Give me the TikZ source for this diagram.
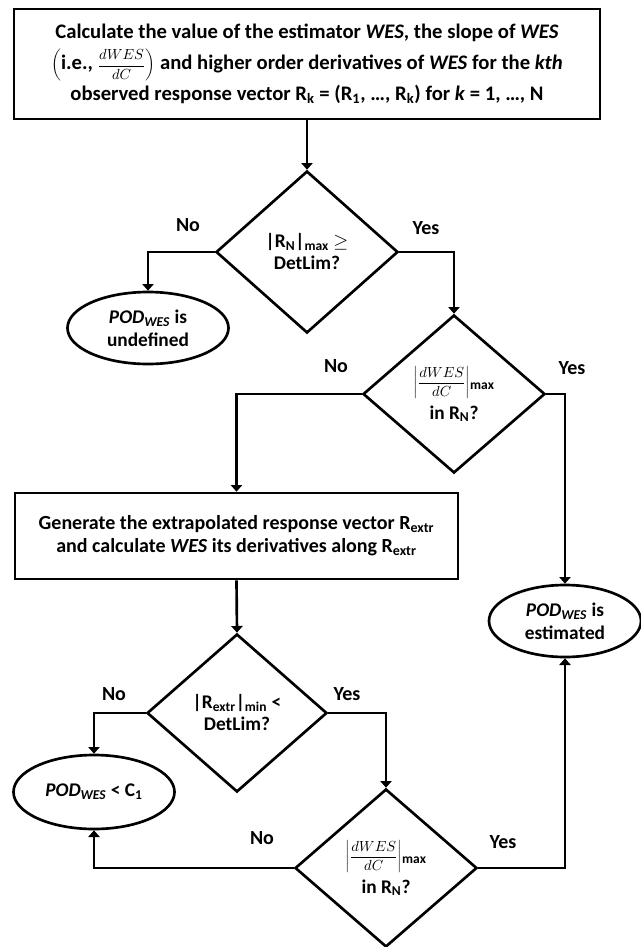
\documentclass[tikz,border=0pt]{standalone}
\usepackage{fontspec}
\setmainfont{Carlito}
\usetikzlibrary{shapes.geometric,arrows.meta}
\newcommand{\dwesdc}{\mbox{\fontsize{10.5}{12}\selectfont$\displaystyle\frac{dWES}{dC}$}}
\tikzset{
  base/.style={draw=black, line width=2pt, align=center, inner sep=0pt,
    font=\fontsize{14.5}{17}\selectfont\bfseries},
  procbox/.style={base, rectangle},
  decision/.style={base, diamond},
  terminal/.style={base, ellipse},
  arr/.style={line width=2pt, -{Triangle[length=5pt,width=8.5pt]}},
  lbl/.style={font=\fontsize{15}{17}\selectfont\bfseries, inner sep=0pt}
}
\begin{document}
\begin{tikzpicture}[x=0.75pt,y=-0.75pt]
\fill[white] (0,0) rectangle (641,947);
\useasboundingbox (0,0) rectangle (641,947);

\node[procbox, minimum width=439.5pt, minimum height=82.5pt,
  font=\fontsize{15.5}{23}\selectfont\bfseries] (top) at (307,64)
  {Calculate the value of the estimator \textit{WES}, the slope of \textit{WES}\\
   $\left(\mbox{i.e., }\dwesdc\right)$ and higher order derivatives of \textit{WES} for the \textit{kth}\\
   observed response vector R\textsubscript{k} = (R\textsubscript{1}, \dots, R\textsubscript{k}) for \textit{k} = 1, \dots, N};

\node[decision, minimum width=136.5pt, minimum height=121.5pt,
  font=\fontsize{14.5}{16.5}\selectfont\bfseries] (d1) at (307,252)
  {|R\textsubscript{N}|\textsubscript{max} $\geq$\\DetLim?};

\node[terminal, minimum width=120.75pt, minimum height=54pt] (e1) at (148,328)
  {\textit{POD}\textsubscript{\textit{WES}} is\\undefined};

\node[decision, minimum width=136.5pt, minimum height=118.5pt] (d2) at (454,394)
  {$\left|\dwesdc\right|$\textsubscript{max}\\[4.5pt]in R\textsubscript{N}?};

\node[procbox, minimum width=332.25pt, minimum height=64.5pt,
  font=\fontsize{15}{17.25}\selectfont\bfseries] (box2) at (236.5,536)
  {Generate the extrapolated response vector R\textsubscript{extr}\\
   and calculate \textit{WES} its derivatives along R\textsubscript{extr}};

\node[terminal, minimum width=114pt, minimum height=54pt] (e2) at (565,621)
  {\textit{POD}\textsubscript{\textit{WES}} is\\estimated};

\node[decision, minimum width=135pt, minimum height=118.5pt,
  font=\fontsize{14.5}{16.5}\selectfont\bfseries] (d3) at (237,713)
  {|R\textsubscript{extr}|\textsubscript{min} <\\DetLim?};

\node[terminal, minimum width=120.75pt, minimum height=55.5pt] (e3) at (94,792)
  {\textit{POD}\textsubscript{\textit{WES}} < C\textsubscript{1}};

\node[decision, minimum width=136.5pt, minimum height=118.5pt] (d4) at (386,868)
  {$\left|\dwesdc\right|$\textsubscript{max}\\[4.5pt]in R\textsubscript{N}?};

\draw[arr] (top.south) -- (d1.north);
\draw[arr] (d1.west) -| (e1.north);
\draw[arr] (d1.east) -| (d2.north);
\draw[arr] (d2.west) -| (box2.north);
\draw[arr] (d2.east) -| (e2.north);
\draw[arr] (box2.south) -- (d3.north);
\draw[arr] (d3.west) -| (e3.north);
\draw[arr] (d3.east) -| (d4.north);
\draw[arr] (d4.west) -| (e3.south);
\draw[arr] (d4.east) -| (e2.south);

\node[lbl] (no1) at (188,225) {No};
\node[lbl] (yes1) at (426,228) {Yes};
\node[lbl] (no2) at (336,366) {No};
\node[lbl] (yes2) at (572,368) {Yes};
\node[lbl] (no3) at (114,694) {No};
\node[lbl] (yes3) at (347,694) {Yes};
\node[lbl] (no4) at (262,838) {No};
\node[lbl] (yes4) at (503,842) {Yes};
\end{tikzpicture}
\end{document}
